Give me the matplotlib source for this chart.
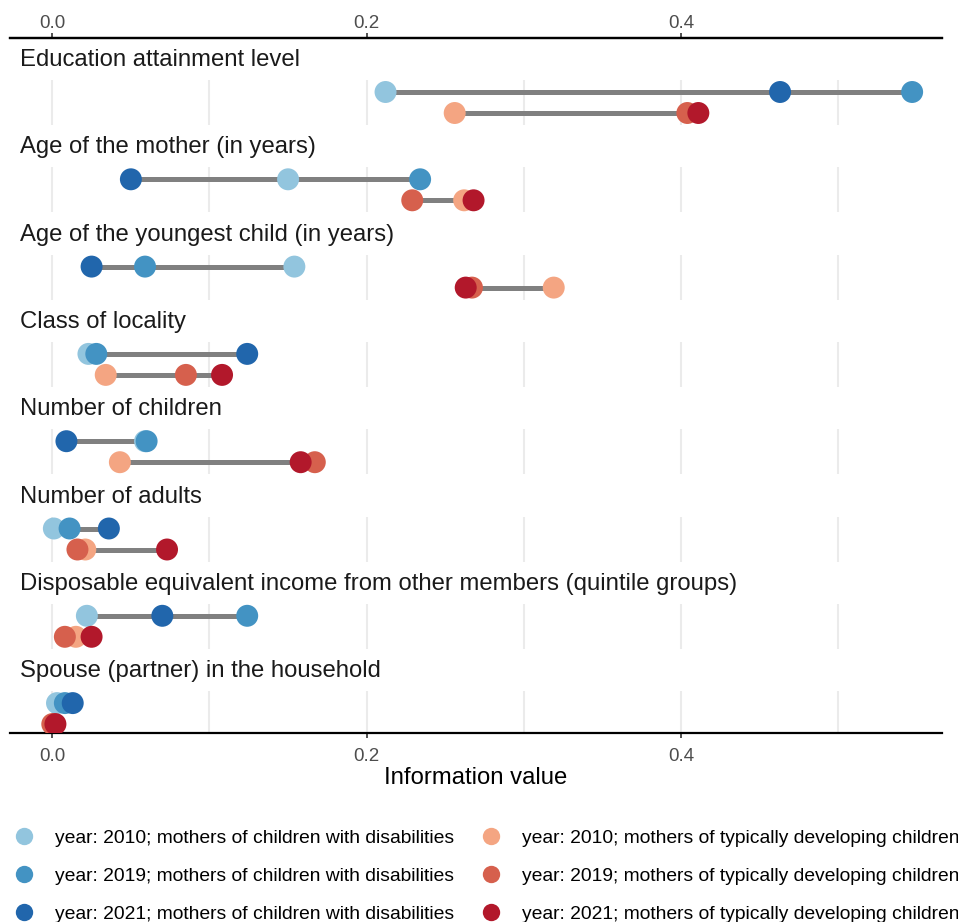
import numpy as np
import matplotlib
matplotlib.use("Agg")
import matplotlib.pyplot as plt
from matplotlib.lines import Line2D

plt.rcParams['font.family'] = ['Liberation Sans', 'DejaVu Sans']

variables = [
    "Education attainment level",
    "Age of the mother (in years)",
    "Age of the youngest child (in years)",
    "Class of locality",
    "Number of children",
    "Number of adults",
    "Disposable equivalent income from other members (quintile groups)",
    "Spouse (partner) in the household",
]
years = ["2010", "2019", "2021"]

# information value, mothers of children with disabilities: 2010, 2019, 2021
dis_2010 = [0.212, 0.150, 0.154, 0.023, 0.059, 0.001, 0.022, 0.003]
dis_2019 = [0.547, 0.234, 0.059, 0.028, 0.060, 0.011, 0.124, 0.008]
dis_2021 = [0.463, 0.050, 0.025, 0.124, 0.009, 0.036, 0.070, 0.013]
# mothers of typically developing children
typ_2010 = [0.256, 0.262, 0.319, 0.034, 0.043, 0.021, 0.015, 0.001]
typ_2019 = [0.404, 0.229, 0.267, 0.085, 0.167, 0.016, 0.008, 0.000]
typ_2021 = [0.411, 0.268, 0.263, 0.108, 0.158, 0.073, 0.025, 0.002]

dis_colors = ["#92C5DE", "#4393C3", "#2166AC"]
typ_colors = ["#F4A582", "#D6604D", "#B2182B"]

xticks = [0.0, 0.2, 0.4]
xticklabels = ["0.0", "0.2", "0.4"]

W, H = 958, 922
fig = plt.figure(figsize=(W / 100, H / 100), dpi=100)
ax_top, ax_bot = 38, 733
ax = fig.add_axes([10 / W, 1 - ax_bot / H, 932 / W, (ax_bot - ax_top) / H])
ax.set_xlim(-0.0269, 0.566)
ax.set_ylim(ax_bot, ax_top)

# facet layout (in pixel rows from the top)
step = 87.3
grid_x = [0.0, 0.1, 0.2, 0.3, 0.4, 0.5]
groups = [
    (np.array([dis_2010, dis_2019, dis_2021]), dis_colors, 92),
    (np.array([typ_2010, typ_2019, typ_2021]), typ_colors, 113),
]

for i, name in enumerate(variables):
    base = i * step
    ax.text(-0.0205, 60 + base, name, fontsize=17.2, color="#1A1A1A",
            ha="left", va="center")
    ax.vlines(grid_x, 80 + base, 125 + base, color="#EBEBEB", lw=1.5, zorder=0)
    for vals, cols, yoff in groups:
        v = vals[:, i]
        y = yoff + base
        ax.plot([v.min(), v.max()], [y, y], color="#808080", lw=3.6,
                solid_capstyle="butt", zorder=1)
        for k in range(3):
            ax.scatter(v[k], y, s=250, color=cols[k], edgecolors="none", zorder=2 + k)

tick_style = dict(direction="out", length=3.5, width=1.2, colors="#333333",
                  labelsize=13.5, labelcolor="#4D4D4D")
ax.set_xticks(xticks)
ax.set_xticklabels(xticklabels)
ax.tick_params(axis="x", pad=7, **tick_style)
ax.set_yticks([])
for s in ["left", "right"]:
    ax.spines[s].set_visible(False)
for s in ["top", "bottom"]:
    ax.spines[s].set_linewidth(1.6)
    ax.spines[s].set_color("black")
ax.set_xlabel("Information value", fontsize=17.2, color="black", labelpad=2)

sec = ax.secondary_xaxis("top")
sec.set_xticks(xticks)
sec.set_xticklabels(xticklabels)
sec.tick_params(axis="x", pad=0.5, **tick_style)
sec.spines["top"].set_linewidth(1.6)
sec.spines["top"].set_color("black")

handles = []
labels = []
for grp, cols in [("mothers of children with disabilities", dis_colors),
                  ("mothers of typically developing children", typ_colors)]:
    for yr, c in zip(years, cols):
        handles.append(Line2D([], [], ls="none", marker="o", markersize=12.5,
                              markerfacecolor=c, markeredgecolor="none"))
        labels.append(f"year: {yr}; {grp}")
fig.legend(handles, labels, ncol=2, loc="upper left",
           bbox_to_anchor=(12.4 / W, 1 - 829 / H),
           frameon=False, fontsize=13.9, handletextpad=1.0, columnspacing=1.3,
           labelspacing=1.07, handlelength=1.2, borderaxespad=0, borderpad=0)

fig.savefig("out.png", dpi=100)
